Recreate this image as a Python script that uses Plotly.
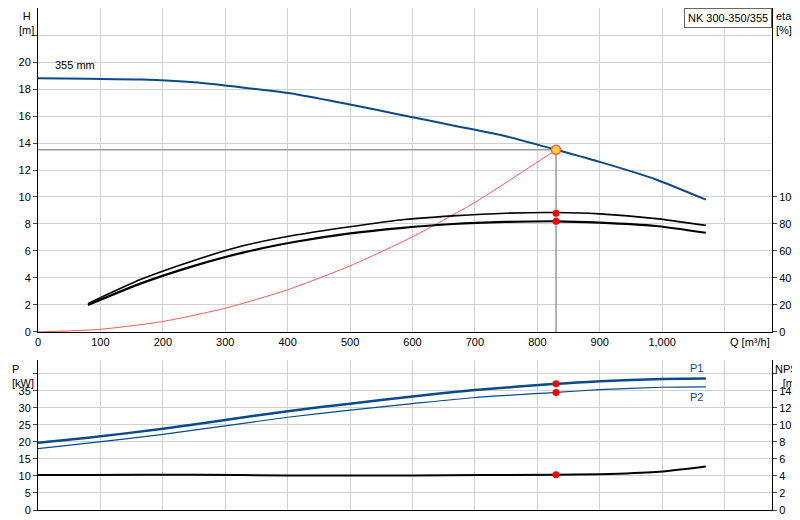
import plotly.graph_objects as go

q_h = [0, 80, 165, 250, 330, 415, 500, 580, 665, 750, 830, 900, 990, 1070]
h = [18.8, 18.75, 18.7, 18.5, 18.1, 17.6, 16.85, 16.1, 15.3, 14.5, 13.5, 12.6, 11.3, 9.8]
q_eta = [80, 165, 250, 330, 415, 500, 580, 665, 750, 830, 900, 990, 1070]
eta_up = [21, 39, 53, 64, 72, 78, 83, 86, 88, 88.5, 87.5, 84, 79]
eta_lo = [20, 36, 49, 59, 67, 73, 77, 80, 81.5, 82, 81, 78.5, 73.5]
q_sys = [0, 100, 200, 300, 400, 500, 600, 700, 830]
h_sys = [0, 0.2, 0.78, 1.76, 3.13, 4.9, 7.05, 9.6, 13.5]
q_p = [0, 80, 200, 300, 400, 500, 600, 700, 830, 900, 1000, 1070]
p1 = [19.7, 21.2, 23.8, 26.4, 29, 31.2, 33.3, 35.2, 37, 37.8, 38.4, 38.6]
p2 = [18, 19.6, 22.2, 24.7, 27.2, 29.3, 31.2, 33, 34.5, 35.3, 36, 36.1]
q_npsh = [0, 80, 250, 400, 600, 830, 900, 990, 1070]
npsh = [4.1, 4.1, 4.15, 4.05, 4.05, 4.15, 4.2, 4.45, 5.1]
q_op = 830
h_op, eta_op_up, eta_op_lo, p1_op, p2_op, npsh_op = 13.5, 88, 82, 37, 34.5, 4.15
x_ticks = [0, 100, 200, 300, 400, 500, 600, 700, 800, 900, 1000, 1100]
x_labels = ["0", "100", "200", "300", "400", "500", "600", "700", "800", "900", "1,000", ""]

blue = "#0a4a8a"
sm = 0.6
fig = go.Figure()
fig.add_trace(go.Scatter(x=[0, q_op, q_op], y=[h_op, h_op, 0], mode="lines", line=dict(color="#999", width=1.5), xaxis="x", yaxis="y"))
fig.add_trace(go.Scatter(x=q_sys, y=h_sys, mode="lines", line=dict(color="#ff5555", width=1, shape="spline", smoothing=sm), xaxis="x", yaxis="y"))
fig.add_trace(go.Scatter(x=q_h, y=h, mode="lines", line=dict(color=blue, width=2, shape="spline", smoothing=sm), xaxis="x", yaxis="y"))
fig.add_trace(go.Scatter(x=q_eta, y=eta_up, mode="lines", line=dict(color="black", width=1.6, shape="spline", smoothing=sm), xaxis="x", yaxis="y2"))
fig.add_trace(go.Scatter(x=q_eta, y=eta_lo, mode="lines", line=dict(color="black", width=2.2, shape="spline", smoothing=sm), xaxis="x", yaxis="y2"))
fig.add_trace(go.Scatter(x=[q_op, q_op], y=[eta_op_up, eta_op_lo], mode="markers", marker=dict(color="red", size=7), xaxis="x", yaxis="y2"))
fig.add_trace(go.Scatter(x=[q_op], y=[h_op], mode="markers", marker=dict(color="#ffd23a", size=9, line=dict(color="#ff5a3a", width=1.5)), xaxis="x", yaxis="y"))
fig.add_trace(go.Scatter(x=q_p, y=p1, mode="lines", line=dict(color=blue, width=2.5, shape="spline", smoothing=sm), xaxis="x2", yaxis="y3"))
fig.add_trace(go.Scatter(x=q_p, y=p2, mode="lines", line=dict(color=blue, width=1.2, shape="spline", smoothing=sm), xaxis="x2", yaxis="y3"))
fig.add_trace(go.Scatter(x=q_npsh, y=npsh, mode="lines", line=dict(color="black", width=2, shape="spline", smoothing=sm), xaxis="x2", yaxis="y4"))
fig.add_trace(go.Scatter(x=[q_op, q_op], y=[p1_op, p2_op], mode="markers", marker=dict(color="red", size=7), xaxis="x2", yaxis="y3"))
fig.add_trace(go.Scatter(x=[q_op], y=[npsh_op], mode="markers", marker=dict(color="red", size=7), xaxis="x2", yaxis="y4"))

font = dict(family="Liberation Sans, Arial", size=11, color="black")
grid = "#d0d0d0"
xr = [0, 1176]
fig.update_layout(
    width=800, height=520, margin=dict(l=30, r=36, t=0, b=18, autoexpand=False),
    paper_bgcolor="white", plot_bgcolor="white", showlegend=False, font=font,
    xaxis=dict(domain=[0, 1], range=xr, tickvals=x_ticks, ticktext=x_labels, gridcolor=grid, automargin=False,
               showline=True, linecolor="black", anchor="y", zeroline=False, ticks=""),
    yaxis=dict(domain=[0.3546, 1], range=[0, 24], tickvals=list(range(0, 24, 2)), automargin=False,
               ticktext=[str(v) for v in range(0, 22, 2)] + [""], gridcolor=grid,
               showline=True, linecolor="black", ticks="outside", ticklen=4, zeroline=False),
    yaxis2=dict(overlaying="y", side="right", range=[0, 240], tickvals=list(range(0, 101, 20)), automargin=False,
                showgrid=False, showline=True, linecolor="black", ticks="outside", ticklen=4, anchor="x", zeroline=False),
    xaxis2=dict(domain=[0, 1], range=xr, tickvals=x_ticks, showticklabels=False, gridcolor=grid, automargin=False,
                showline=True, linecolor="black", anchor="y3", zeroline=False, mirror=False),
    yaxis3=dict(domain=[0, 0.2988], range=[0, 44], tickvals=list(range(0, 45, 5)), automargin=False,
                ticktext=[str(v) for v in range(0, 40, 5)] + [""], gridcolor=grid,
                showline=True, linecolor="black", ticks="outside", ticklen=4, anchor="x2", zeroline=False),
    yaxis4=dict(overlaying="y3", side="right", range=[0, 17.6], tickvals=list(range(0, 17, 2)), automargin=False,
                ticktext=[str(v) for v in range(0, 16, 2)] + [""], showgrid=False,
                showline=True, linecolor="black", ticks="outside", ticklen=4, anchor="x2", zeroline=False),
    annotations=[
        dict(text="H<br>[m]", x=0, y=1, xref="paper", yref="paper", xanchor="right", yanchor="top", xshift=-2, showarrow=False, align="center"),
        dict(text="eta<br>[%]", x=1, y=1, xref="paper", yref="paper", xanchor="left", yanchor="top", xshift=2, showarrow=False, align="left"),
        dict(text="Q [m³/h]", x=1, y=0.3546, xref="paper", yref="paper", xanchor="right", yanchor="top", yshift=-2, showarrow=False),
        dict(text="P<br>[kW]", x=0, y=0.2988, xref="paper", yref="paper", xanchor="right", yanchor="top", xshift=-2, yshift=-1, showarrow=False, align="left"),
        dict(text="NPSH<br>[m]", x=1, y=0.2988, xref="paper", yref="paper", xanchor="left", yanchor="top", xshift=1, yshift=-1, showarrow=False, align="center"),
        dict(text="355 mm", x=60, y=19.2, xref="x", yref="y", showarrow=False, yanchor="bottom"),
        dict(text="NK 300-350/355", x=1, y=1, xref="paper", yref="paper", xanchor="right", yanchor="top", showarrow=False,
             bordercolor="#666", borderwidth=1, bgcolor="white", borderpad=3),
        dict(text="P1", x=1055, y=39.2, xref="x2", yref="y3", showarrow=False, yanchor="bottom", font=dict(color=blue, size=11)),
        dict(text="P2", x=1055, y=35.6, xref="x2", yref="y3", showarrow=False, yanchor="top", font=dict(color=blue, size=11)),
    ],
)
fig.write_html("out.html")
